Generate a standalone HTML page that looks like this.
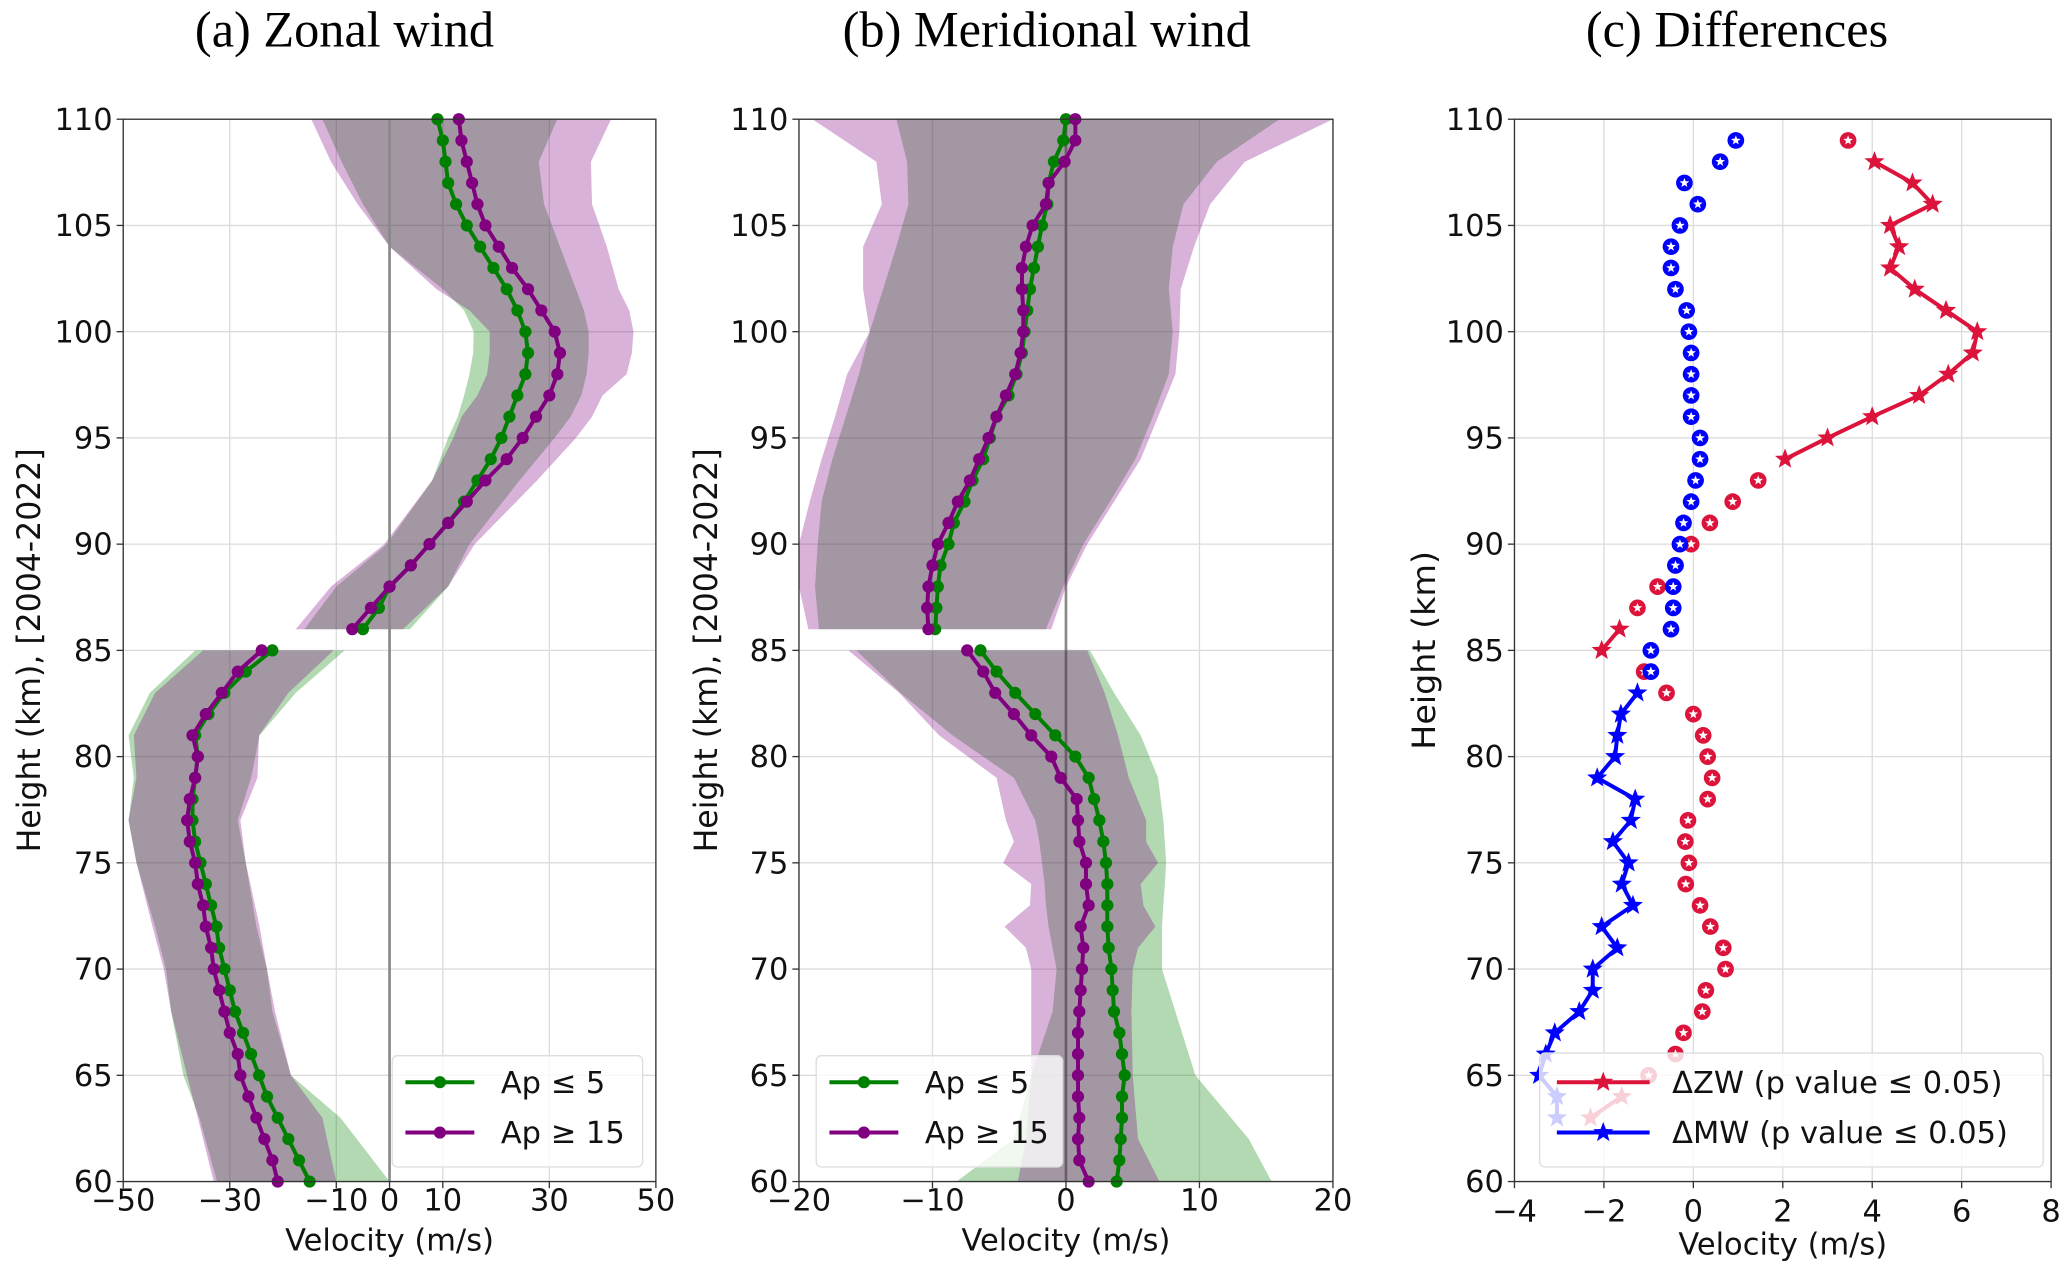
<!DOCTYPE html>
<html><head><meta charset="utf-8"><style>
html,body{margin:0;padding:0;background:#fff}
svg{display:block}
</style></head><body>
<svg id="chart" width="2067" height="1265" viewBox="0 0 1560 955" preserveAspectRatio="none" xmlns="http://www.w3.org/2000/svg">
<rect width="1560" height="955" fill="#fff"/>
</svg>
<script>
// ---------- DATA ----------
const hLow = [60,61,62,63,64,65,66,67,68,69,70,71,72,73,74,75,76,77,78,79,80,81,82,83,84,85];
const hUp = [86,87,88,89,90,91,92,93,94,95,96,97,98,99,100,101,102,103,104,105,106,107,108,109,110];
// Zonal means
const zwGreenLow = [-15,-17,-19,-21,-23,-24.5,-26,-27.5,-29,-30,-31,-32,-32.5,-33.5,-34.5,-35.5,-36.5,-37,-37,-36.5,-36,-36.5,-34,-31,-27,-22];
const zwPurpleLow = [-21,-22,-23.5,-25,-26.5,-28,-28.5,-30,-31,-32,-33,-33.5,-34.5,-35,-36,-36.5,-37.5,-38,-37.5,-36.5,-36,-37,-34.5,-31.5,-28.5,-24];
const zwGreenUp = [-5,-2,0,4,7.5,11,14,16.5,19,21,22.5,24,25.5,26,25.5,24,22,19.5,17,14.5,12.5,11,10.5,10,9];
const zwPurpleUp = [-7,-3.5,0,4,7.5,11,14.5,18,22,25,27.5,30,31.5,32,31,28.5,26,23,20.5,18,16.5,15.5,14.5,13.5,13];
// Meridional means
const mwGreenLow = [3.8,4.0,4.1,4.2,4.2,4.4,4.2,4.0,3.6,3.5,3.4,3.2,3.1,3.1,3.1,3.0,2.8,2.5,2.1,1.7,0.7,-0.8,-2.3,-3.8,-5.2,-6.4];
const mwPurpleLow = [1.7,1.0,0.9,1.0,0.9,0.9,0.9,0.9,1.0,1.1,1.2,1.3,1.1,1.7,1.5,1.5,1.0,0.9,0.8,-0.4,-1.1,-2.6,-3.9,-5.3,-6.2,-7.4];
const mwGreenUp = [-9.8,-9.7,-9.6,-9.4,-8.8,-8.4,-7.6,-7.0,-6.2,-5.7,-5.2,-4.3,-3.7,-3.3,-3.1,-2.9,-2.7,-2.4,-2.1,-1.8,-1.4,-1.3,-0.9,-0.2,0];
const mwPurpleUp = [-10.3,-10.4,-10.3,-10.0,-9.6,-8.8,-8.1,-7.2,-6.5,-5.8,-5.2,-4.5,-3.8,-3.4,-3.2,-3.2,-3.3,-3.3,-3.0,-2.5,-1.5,-1.3,-0.1,0.7,0.7];
// Zonal bands
const zbLowH = [60,63,65,68,70,72,75,77,79,81,83,85];
const zbGreenLowL = [-32.4,-35.7,-38.7,-41,-42,-44,-47.5,-49,-48,-49,-45,-36.5];
const zbGreenLowR = [0,-9.2,-18.5,-22,-23,-25,-27,-28.5,-26,-24.4,-17.6,-8.4];
const zbPurpleLowL = [-33,-36,-38,-41,-42.4,-44.5,-47.5,-49,-47.5,-48,-44,-35];
const zbPurpleLowR = [-10,-12.6,-18.5,-21.5,-23,-24.4,-27,-28,-24.8,-24.5,-19,-10.5];
const zbUpH = [86,88,90,93,95,96,97,98,99,100,101,102,104,106,108,110];
const zbGreenUpL = [-16,-10,-0.5,8,11,12.8,14,15,15.7,15.8,14,10,0,-5,-9,-12.6];
const zbGreenUpR = [3.8,11,15,24.4,31,34,36,37,37.4,37.4,36.5,35,32,29,28,31.5];
const zbPurpleUpL = [-17.6,-11,-1,8,12,13.5,16.5,18.3,18.8,18.8,15,8.8,0,-6,-11,-14.7];
const zbPurpleUpR = [2.5,11,16,27.7,35,38,40,44.5,45.5,45.8,45,43,40.8,38,37.8,41.6];
// Meridional bands
const mbLowH = [60,62,65,68,70,71,72,73,74,75,76,77,79,81,83,85];
const mbGreenLowL = [-8.2,-3.9,-2.6,-1,-0.7,-1,-1.3,-1.5,-1.6,-1.8,-2,-2.3,-3.9,-8.5,-12.4,-15.7];
const mbGreenLowR = [15.4,13.7,9.7,8.2,7.2,7.2,7.2,7.3,7.4,7.5,7.4,7.3,6.9,5.6,3.6,1.8];
const mbPurpleLowL = [-3.6,-3,-2.6,-2.6,-2.6,-3,-4.6,-2.7,-2.6,-4.7,-3.9,-4.5,-5.2,-9.5,-12.5,-16.3];
const mbPurpleLowR = [7,5.4,5,4.9,5,5.4,6.7,5.8,5.6,6.9,6,6,4.7,3.9,2.9,1.6];
const mbUpH = [86,88,90,92,94,96,98,100,102,104,106,108,110];
const mbGreenUpL = [-18.5,-18.8,-18.6,-18.3,-17.5,-16.5,-15.5,-14.7,-13.7,-12.7,-11.8,-11.9,-12.7];
const mbGreenUpR = [-1.5,-0.2,1.3,3.3,5.2,6.5,7.7,8,7.7,8,8.8,11.3,16];
const mbPurpleUpL = [-19.3,-20,-20,-19.2,-18.3,-17.3,-16.4,-14.7,-15.2,-15.2,-13.8,-14.2,-19];
const mbPurpleUpR = [-1.1,0,1.6,3.6,5.6,6.9,8.2,8.5,8.6,9.6,10.8,13.4,20];
// Differences
const diffH = [109,108,107,106,105,104,103,102,101,100,99,98,97,96,95,94,93,92,91,90,89,88,87,86,85,84,83,82,81,80,79,78,77,76,75,74,73,72,71,70,69,68,67,66,65,64,63];
const dZW = [3.46,4.05,4.9,5.35,4.4,4.6,4.4,4.95,5.65,6.35,6.25,5.7,5.05,4.0,3.0,2.05,1.45,0.88,0.37,-0.05,-0.4,-0.8,-1.25,-1.65,-2.05,-1.1,-0.6,0,0.22,0.32,0.42,0.32,-0.12,-0.18,-0.1,-0.17,0.15,0.38,0.67,0.72,0.28,0.2,-0.22,-0.4,-1.0,-1.6,-2.3];
const sigZW = [0,1,1,1,1,1,1,1,1,1,1,1,1,1,1,1,0,0,0,0,0,0,0,1,1,0,0,0,0,0,0,0,0,0,0,0,0,0,0,0,0,0,0,0,0,1,1];
const dMW = [0.95,0.6,-0.2,0.1,-0.3,-0.5,-0.5,-0.4,-0.15,-0.1,-0.05,-0.05,-0.05,-0.05,0.15,0.15,0.05,-0.05,-0.22,-0.3,-0.4,-0.45,-0.45,-0.5,-0.95,-0.95,-1.25,-1.62,-1.7,-1.75,-2.15,-1.3,-1.4,-1.8,-1.45,-1.6,-1.35,-2.05,-1.7,-2.25,-2.25,-2.55,-3.1,-3.3,-3.45,-3.05,-3.05];
const sigMW = [0,0,0,0,0,0,0,0,0,0,0,0,0,0,0,0,0,0,0,0,0,0,0,0,0,0,1,1,1,1,1,1,1,1,1,1,1,1,1,1,1,1,1,1,1,1,1];
const yTicks = [60,65,70,75,80,85,90,95,100,105,110];
const xTicksA = [-50,-30,-10,0,10,30,50];
const xTicksB = [-20,-10,0,10,20];
const xTicksC = [-4,-2,0,2,4,6,8];

// ---------- RENDER ----------
const NS = 'http://www.w3.org/2000/svg';
const svg = document.getElementById('chart');
function mk(tag, attrs, parent){const e=document.createElementNS(NS,tag);for(const k in attrs)e.setAttribute(k,attrs[k]);(parent||svg).appendChild(e);return e;}
const Y0=90, Y1=892;
function yS(h){return Y0+(110-h)/50*(Y1-Y0);}
function xScale(p){return v=>p.x0+(v-p.min)/(p.max-p.min)*(p.x1-p.x0);}
const fmt=v=>v<0?'\u2212'+Math.abs(v):String(v);
const SANS='"DejaVu Sans","Liberation Sans",sans-serif';
function starPts(cx,cy,r){let s=[];for(let i=0;i<10;i++){const a=-Math.PI/2+i*Math.PI/5;const rr=i%2?r*0.42:r;s.push((cx+rr*Math.cos(a)).toFixed(1)+','+(cy+rr*Math.sin(a)).toFixed(1));}return s.join(' ');}

function panel(p){
  const g=mk('g',{});
  
  
  const xs=xScale(p);
  const grid=mk('g',{},g);
  
  
  yTicks.forEach(t=>{mk('line',{x1:p.x0,x2:p.x1,y1:yS(t),y2:yS(t),stroke:'#dcdcdc','stroke-width':1},grid);});
  p.xt.forEach(t=>{mk('line',{x1:xs(t),x2:xs(t),y1:Y0,y2:Y1,stroke:'#dcdcdc','stroke-width':1},grid);});
  p.plot(g,xs);
  const fr=mk('rect',{x:p.x0,y:Y0,width:p.x1-p.x0,height:Y1-Y0,fill:'none',stroke:'#333','stroke-width':1},g);
  
  
  yTicks.forEach(t=>{
    mk('line',{x1:p.x0-5,x2:p.x0,y1:yS(t),y2:yS(t),stroke:'#333'},g);
    const tx=mk('text',{x:p.x0-8,y:yS(t)+8,'text-anchor':'end','font-size':23,'font-family':SANS,fill:'#111'},g);
    tx.textContent=t;
    
    
  });
  p.xt.forEach(t=>{
    mk('line',{x1:xs(t),x2:xs(t),y1:Y1,y2:Y1+5,stroke:'#333'},g);
    const tx=mk('text',{x:xs(t),y:Y1+p.tickDy,'text-anchor':'middle','font-size':23,'font-family':SANS,fill:'#111'},g);
    tx.textContent=fmt(t);
    
    
  });
  const xl=mk('text',{x:(p.x0+p.x1)/2,y:Y1+p.labDy,'text-anchor':'middle','font-size':23,'font-family':SANS,fill:'#111'},g);
  xl.textContent='Velocity (m/s)';
  
  
  const yl=mk('text',{x:0,y:0,'text-anchor':'middle','font-size':24,'font-family':SANS,fill:'#111',transform:`translate(${p.ylx},491) rotate(-90)`,textLength:p.ylLen,lengthAdjust:'spacingAndGlyphs'},g);
  yl.textContent=p.ylab;
  
  
  const ti=mk('text',{x:p.tcx,y:35,'text-anchor':'middle','font-size':38,'font-family':'"Liberation Serif","DejaVu Serif",serif',fill:'#000'},g);
  ti.textContent=p.title;
  
  
}

function band(g,xs,H,L,R,color,name){
  const pts=[];
  for(let i=0;i<H.length;i++)pts.push(xs(L[i]).toFixed(1)+','+yS(H[i]).toFixed(1));
  for(let i=H.length-1;i>=0;i--)pts.push(xs(R[i]).toFixed(1)+','+yS(H[i]).toFixed(1));
  const e=mk('polygon',{points:pts.join(' '),fill:color,'fill-opacity':0.3,stroke:'none'},g);
  
  
}
function meanLine(g,xs,H,V,color,name){
  const e=mk('polyline',{points:H.map((h,i)=>xs(V[i]).toFixed(1)+','+yS(h).toFixed(1)).join(' '),fill:'none',stroke:color,'stroke-width':3},g);
  
  
  H.forEach((h,i)=>{
    const c=mk('circle',{cx:xs(V[i]),cy:yS(h),r:4.6,fill:color},g);
    
    
  });
}
function legendAB(g,x,y,w){
  const lg=mk('g',{},g);
  
  
  mk('rect',{x:x,y:y,width:w,height:84,rx:4,fill:'#fff','fill-opacity':0.8,stroke:'#ddd'},lg);
  [['#008000','Ap \u2264 5'],['#800080','Ap \u2265 15']].forEach((d,i)=>{
    const yy=y+20+i*38;
    const en=mk('g',{},lg);
    
    
    mk('line',{x1:x+10,x2:x+62,y1:yy,y2:yy,stroke:d[0],'stroke-width':3},en);
    mk('circle',{cx:x+36,cy:yy,r:4.6,fill:d[0]},en);
    const t=mk('text',{x:x+82,y:yy+8,'font-size':23,'font-family':SANS,fill:'#111'},en);
    t.textContent=d[1];
  });
}

panel({name:'panel-a-zonal-wind',x0:93,x1:495,min:-50,max:50,xt:xTicksA,tickDy:22,labDy:52,ylx:30,ylLen:305,ylab:'Height (km), [2004-2022]',title:'(a) Zonal wind',tcx:260,
  plot:(g,xs)=>{
    band(g,xs,zbLowH,zbGreenLowL,zbGreenLowR,'#008000','band-green-lower');
    band(g,xs,zbLowH,zbPurpleLowL,zbPurpleLowR,'#800080','band-purple-lower');
    band(g,xs,zbUpH,zbGreenUpL,zbGreenUpR,'#008000','band-green-upper');
    band(g,xs,zbUpH,zbPurpleUpL,zbPurpleUpR,'#800080','band-purple-upper');
    const zl=mk('line',{x1:xs(0),x2:xs(0),y1:Y0,y2:Y1,stroke:'#888','stroke-width':2},g);
    
    
    meanLine(g,xs,hLow,zwGreenLow,'#008000','zonal-ap-low-lower');
    meanLine(g,xs,hLow,zwPurpleLow,'#800080','zonal-ap-high-lower');
    meanLine(g,xs,hUp,zwGreenUp,'#008000','zonal-ap-low-upper');
    meanLine(g,xs,hUp,zwPurpleUp,'#800080','zonal-ap-high-upper');
    legendAB(g,296,797,189);
  }});
panel({name:'panel-b-meridional-wind',x0:603,x1:1006,min:-20,max:20,xt:xTicksB,tickDy:22,labDy:52,ylx:541,ylLen:305,ylab:'Height (km), [2004-2022]',title:'(b) Meridional wind',tcx:790,
  plot:(g,xs)=>{
    const zl=mk('line',{x1:xs(0),x2:xs(0),y1:Y0,y2:Y1,stroke:'#888','stroke-width':2},g);
    
    
    band(g,xs,mbLowH,mbGreenLowL,mbGreenLowR,'#008000','band-green-lower');
    band(g,xs,mbLowH,mbPurpleLowL,mbPurpleLowR,'#800080','band-purple-lower');
    band(g,xs,mbUpH,mbGreenUpL,mbGreenUpR,'#008000','band-green-upper');
    band(g,xs,mbUpH,mbPurpleUpL,mbPurpleUpR,'#800080','band-purple-upper');
    meanLine(g,xs,hLow,mwGreenLow,'#008000','meridional-ap-low-lower');
    meanLine(g,xs,hLow,mwPurpleLow,'#800080','meridional-ap-high-lower');
    meanLine(g,xs,hUp,mwGreenUp,'#008000','meridional-ap-low-upper');
    meanLine(g,xs,hUp,mwPurpleUp,'#800080','meridional-ap-high-upper');
    legendAB(g,616,797,186);
  }});
panel({name:'panel-c-differences',x0:1143,x1:1548,min:-4,max:8,xt:xTicksC,tickDy:30,labDy:55,ylx:1083,ylLen:150,ylab:'Height (km)',title:'(c) Differences',tcx:1311,
  plot:(g,xs)=>{
    function series(V,S,color,name){
      for(let i=0;i<V.length-1;i++){
        if(S[i]&&S[i+1]){
          const l=mk('line',{x1:xs(V[i]),y1:yS(diffH[i]),x2:xs(V[i+1]),y2:yS(diffH[i+1]),stroke:color,'stroke-width':3},g);
          
          
        }
      }
      V.forEach((v,i)=>{
        const cx=xs(v),cy=yS(diffH[i]);
        if(S[i]){
          const s=mk('polygon',{points:starPts(cx,cy,8),fill:color},g);
          
          
        }else{
          const c=mk('circle',{cx:cx,cy:cy,r:6.3,fill:color},g);
          
          
          mk('polygon',{points:starPts(cx,cy,3.8),fill:'#fff'},g);
        }
      });
    }
    series(dZW,sigZW,'#dc143c','delta-zw');
    series(dMW,sigMW,'#0000ff','delta-mw');
    const lg=mk('g',{},g);
    
    
    mk('rect',{x:1162,y:795,width:380,height:86,rx:4,fill:'#fff','fill-opacity':0.8,stroke:'#ddd'},lg);
    [['#dc143c','\u0394ZW (p value \u2264 0.05)'],['#0000ff','\u0394MW (p value \u2264 0.05)']].forEach((d,i)=>{
      const yy=817+i*38;
      const en=mk('g',{},lg);
      
      
      mk('line',{x1:1175,x2:1245,y1:yy,y2:yy,stroke:d[0],'stroke-width':3},en);
      mk('polygon',{points:starPts(1210,yy,8),fill:d[0]},en);
      const t=mk('text',{x:1262,y:yy+8,'font-size':23,'font-family':SANS,fill:'#111'},en);
      t.textContent=d[1];
    });
  }});
</script>
</body></html>
